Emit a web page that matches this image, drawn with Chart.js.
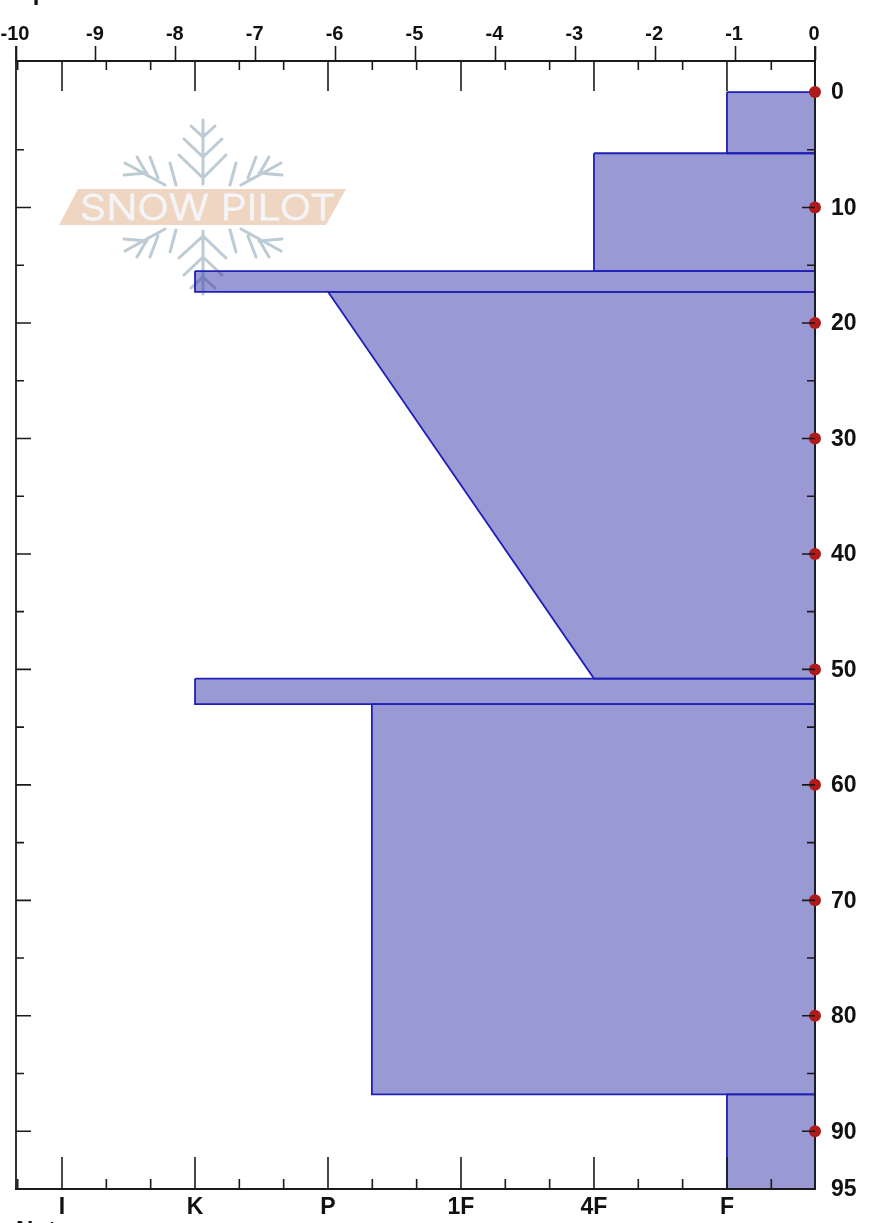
<!DOCTYPE html>
<html>
<head>
<meta charset="utf-8">
<title>Snow profile</title>
<script src="https://cdn.jsdelivr.net/npm/chart.js@4"></script>
<style>
    html, body { margin: 0; padding: 0; background: #fff; overflow: hidden; }
    #page { position: relative; width: 876px; height: 1223px; overflow: hidden; }
    #watermark { position: absolute; left: 0; top: 0; }
    #profile { position: absolute; left: 0; top: 0; }
    .clipped { position: absolute; font: bold 24px "Liberation Sans", Arial, sans-serif; color: #111; }
</style>
</head>
<body>
<div id="page">
    <!-- Logo sits behind the transparent canvas so it shows through the layers -->
    <svg id="watermark" width="876" height="1223">
        <polygon points="78,189 346,189 326,225 59,225" fill="#eed6c2"/>
        <text x="80" y="220" font-family="Inter, sans-serif" font-size="36" font-weight="300" fill="#f5f5f7" stroke="#f5f5f7" stroke-width="0.8" textLength="256" lengthAdjust="spacingAndGlyphs">SNOW PILOT</text>
        <g stroke="#bccbd4" stroke-width="3" fill="none" stroke-linecap="round">
            <!-- top arm -->
            <path d="M203 120V184M191 126L203 137L215 126M184 139L203 157L222 139M179 155L203 178L226 155"/>
            <!-- bottom arm -->
            <path d="M203 294V231M191 288L203 277L215 288M184 275L203 257L222 275M179 258L203 236L226 258"/>
            <!-- side arms -->
            <path d="M125 163L165 185M137 157L148 176M124 175L147 173M150 157L158 178"/>
            <path d="M281 163L241 185M269 157L258 176M282 175L259 173M256 157L248 178"/>
            <path d="M125 251L165 229M137 257L148 238M124 239L147 241M150 257L158 236"/>
            <path d="M281 251L241 229M269 257L258 238M282 239L259 241M256 257L248 236"/>
            <!-- strokes between the arms -->
            <path d="M170 163L176 185M236 163L230 185M170 252L176 230M236 252L230 230"/>
        </g>
    </svg>
    <canvas id="profile" width="876" height="1223"></canvas>
    <div class="clipped" style="left:2px;top:-22px;">Depth</div>
    <div class="clipped" style="left:16px;top:1216px;">Notes</div>
</div>

<script>
// Temperature axis along the top (deg C) and depth axis down the right side
const tempTicks = [-10, -9, -8, -7, -6, -5, -4, -3, -2, -1, 0];
const depthLabels = [0, 10, 20, 30, 40, 50, 60, 70, 80, 90, 95];
const depthMinorTicks = [5, 10, 15, 20, 25, 30, 35, 40, 45, 50, 55, 60, 65, 70, 75, 80, 85, 90];

// Hand hardness axis along the bottom, position in the list is the axis value
const hardnessLabels = ['I', 'K', 'P', '1F', '4F', 'F'];

// Snow layers, depth of top and bottom plus hardness at top and bottom
const layerTop = [0, 5.3, 15.5, 17.3, 50.8, 53, 86.8];
const layerBottom = [5.3, 15.5, 17.3, 50.8, 53, 86.8, 95];
const hardnessTop = [5, 4, 1, 2, 1, 2.33, 5];
const hardnessBottom = [5, 4, 1, 4, 1, 2.33, 5];

// Temperature profile
const tempDepths = [0, 10, 20, 30, 40, 50, 60, 70, 80, 90];
const tempValues = [0, 0, 0, 0, 0, 0, 0, 0, 0, 0];

const axisColor = '#1a1a1a';
const hardnessMax = 5.662;

// One closed polygon per layer, running out to the right edge of the plot
const layerDatasets = layerTop.map(function(top, i) {
    return {
        type: 'scatter',
        xAxisID: 'xHard',
        yAxisID: 'y',
        showLine: true,
        fill: 'shape',
        backgroundColor: 'rgba(51, 51, 170, 0.5)',
        borderColor: '#2020b8',
        borderWidth: 1.8,
        pointRadius: 0,
        tension: 0,
        data: [
            { x: hardnessTop[i], y: top },
            { x: hardnessBottom[i], y: layerBottom[i] },
            { x: hardnessMax, y: layerBottom[i] },
            { x: hardnessMax, y: top },
            { x: hardnessTop[i], y: top }
        ]
    };
});

const tempDataset = {
    type: 'scatter',
    xAxisID: 'x',
    yAxisID: 'y',
    clip: false,
    order: -1, // drawn after the layers
    pointRadius: 6,
    pointBackgroundColor: '#b01a1a',
    pointBorderWidth: 0,
    data: tempDepths.map(function(d, i) { return { x: tempValues[i], y: d }; })
};

// Frame goes over the layers but under the temperature points
const frameLines = {
    id: 'frameLines',
    beforeDatasetDraw: function(chart, args) {
        if (args.index !== layerTop.length) return;
        const ctx = chart.ctx;
        const area = chart.chartArea;

        ctx.save();
        ctx.strokeStyle = axisColor;
        ctx.lineWidth = 1.8;
        ctx.beginPath();
        // left and right run up to the end of the -10 and 0 ticks
        ctx.moveTo(area.left, area.top - 15);
        ctx.lineTo(area.left, area.bottom);
        ctx.lineTo(area.right, area.bottom);
        ctx.lineTo(area.right, area.top - 15);
        ctx.moveTo(area.left, area.top);
        ctx.lineTo(area.right, area.top);
        ctx.stroke();
        ctx.restore();
    }
};

// Chart.js has no inward ticks, so they are drawn here from the scales
const inwardTicks = {
    id: 'inwardTicks',
    afterDatasetsDraw: function(chart) {
        const ctx = chart.ctx;
        const area = chart.chartArea;
        const xHard = chart.scales.xHard;
        const y = chart.scales.y;

        ctx.save();
        ctx.strokeStyle = axisColor;
        ctx.lineWidth = 1.6;
        ctx.beginPath();

        for (let h = -1; h <= 16; h++) {
            const px = xHard.getPixelForValue(h / 3);
            const major = h % 3 === 0;
            ctx.moveTo(px, area.top);
            ctx.lineTo(px, area.top + (major ? 30 : 9));
            ctx.moveTo(px, area.bottom);
            ctx.lineTo(px, area.bottom - (major ? 32 : 10));
        }

        depthMinorTicks.forEach(function(d) {
            const py = y.getPixelForValue(d);
            const major = d % 10 === 0;
            ctx.moveTo(area.left, py);
            ctx.lineTo(area.left + (major ? 15 : 8), py);
            ctx.moveTo(area.right, py);
            ctx.lineTo(area.right - (major ? 13 : 8), py);
        });

        ctx.stroke();
        ctx.restore();
    }
};

new Chart(document.getElementById('profile').getContext('2d'), {
    type: 'scatter',
    data: { datasets: layerDatasets.concat([tempDataset]) },
    plugins: [frameLines, inwardTicks],
    options: {
        responsive: false,
        animation: false,
        events: [],
        layout: { padding: { left: 16, top: 0, right: 0, bottom: 0 } },
        plugins: { legend: { display: false }, tooltip: { enabled: false }, title: { display: false } },
        scales: {
            x: {
                type: 'linear',
                position: 'top',
                min: -10,
                max: 0,
                afterFit: function(scale) { scale.height = 61; },
                afterBuildTicks: function(scale) {
                    scale.ticks = tempTicks.map(function(v) { return { value: v }; });
                },
                border: { color: axisColor, width: 1.8 },
                grid: { drawOnChartArea: false, tickLength: 15, tickColor: axisColor, tickWidth: 1.6 },
                ticks: {
                    autoSkip: false,
                    maxRotation: 0,
                    padding: 0,
                    labelOffset: -1,
                    color: '#111',
                    font: { family: '"Liberation Sans", Arial, sans-serif', size: 20, weight: 'bold' }
                }
            },
            xHard: {
                type: 'linear',
                position: 'bottom',
                min: -0.346,
                max: hardnessMax,
                afterFit: function(scale) { scale.height = 34; },
                afterBuildTicks: function(scale) {
                    scale.ticks = hardnessLabels.map(function(l, i) { return { value: i }; });
                },
                border: { color: axisColor, width: 1.8 },
                grid: { drawOnChartArea: false, drawTicks: false },
                ticks: {
                    autoSkip: false,
                    maxRotation: 0,
                    padding: 5,
                    color: '#111',
                    font: { family: '"Liberation Sans", Arial, sans-serif', size: 23, weight: 'bold' },
                    callback: function(value) { return hardnessLabels[value]; }
                }
            },
            y: {
                type: 'linear',
                position: 'right',
                reverse: true,
                min: -2.69,
                max: 95,
                afterFit: function(scale) { scale.width = 61; },
                afterBuildTicks: function(scale) {
                    scale.ticks = depthLabels.map(function(v) { return { value: v }; });
                },
                border: { color: axisColor, width: 1.8 },
                grid: { drawOnChartArea: false, drawTicks: false },
                ticks: {
                    autoSkip: false,
                    padding: 16,
                    labelOffset: 1,
                    color: '#111',
                    font: { family: '"Liberation Sans", Arial, sans-serif', size: 23, weight: 'bold' }
                }
            }
        }
    }
});
</script>
</body>
</html>
